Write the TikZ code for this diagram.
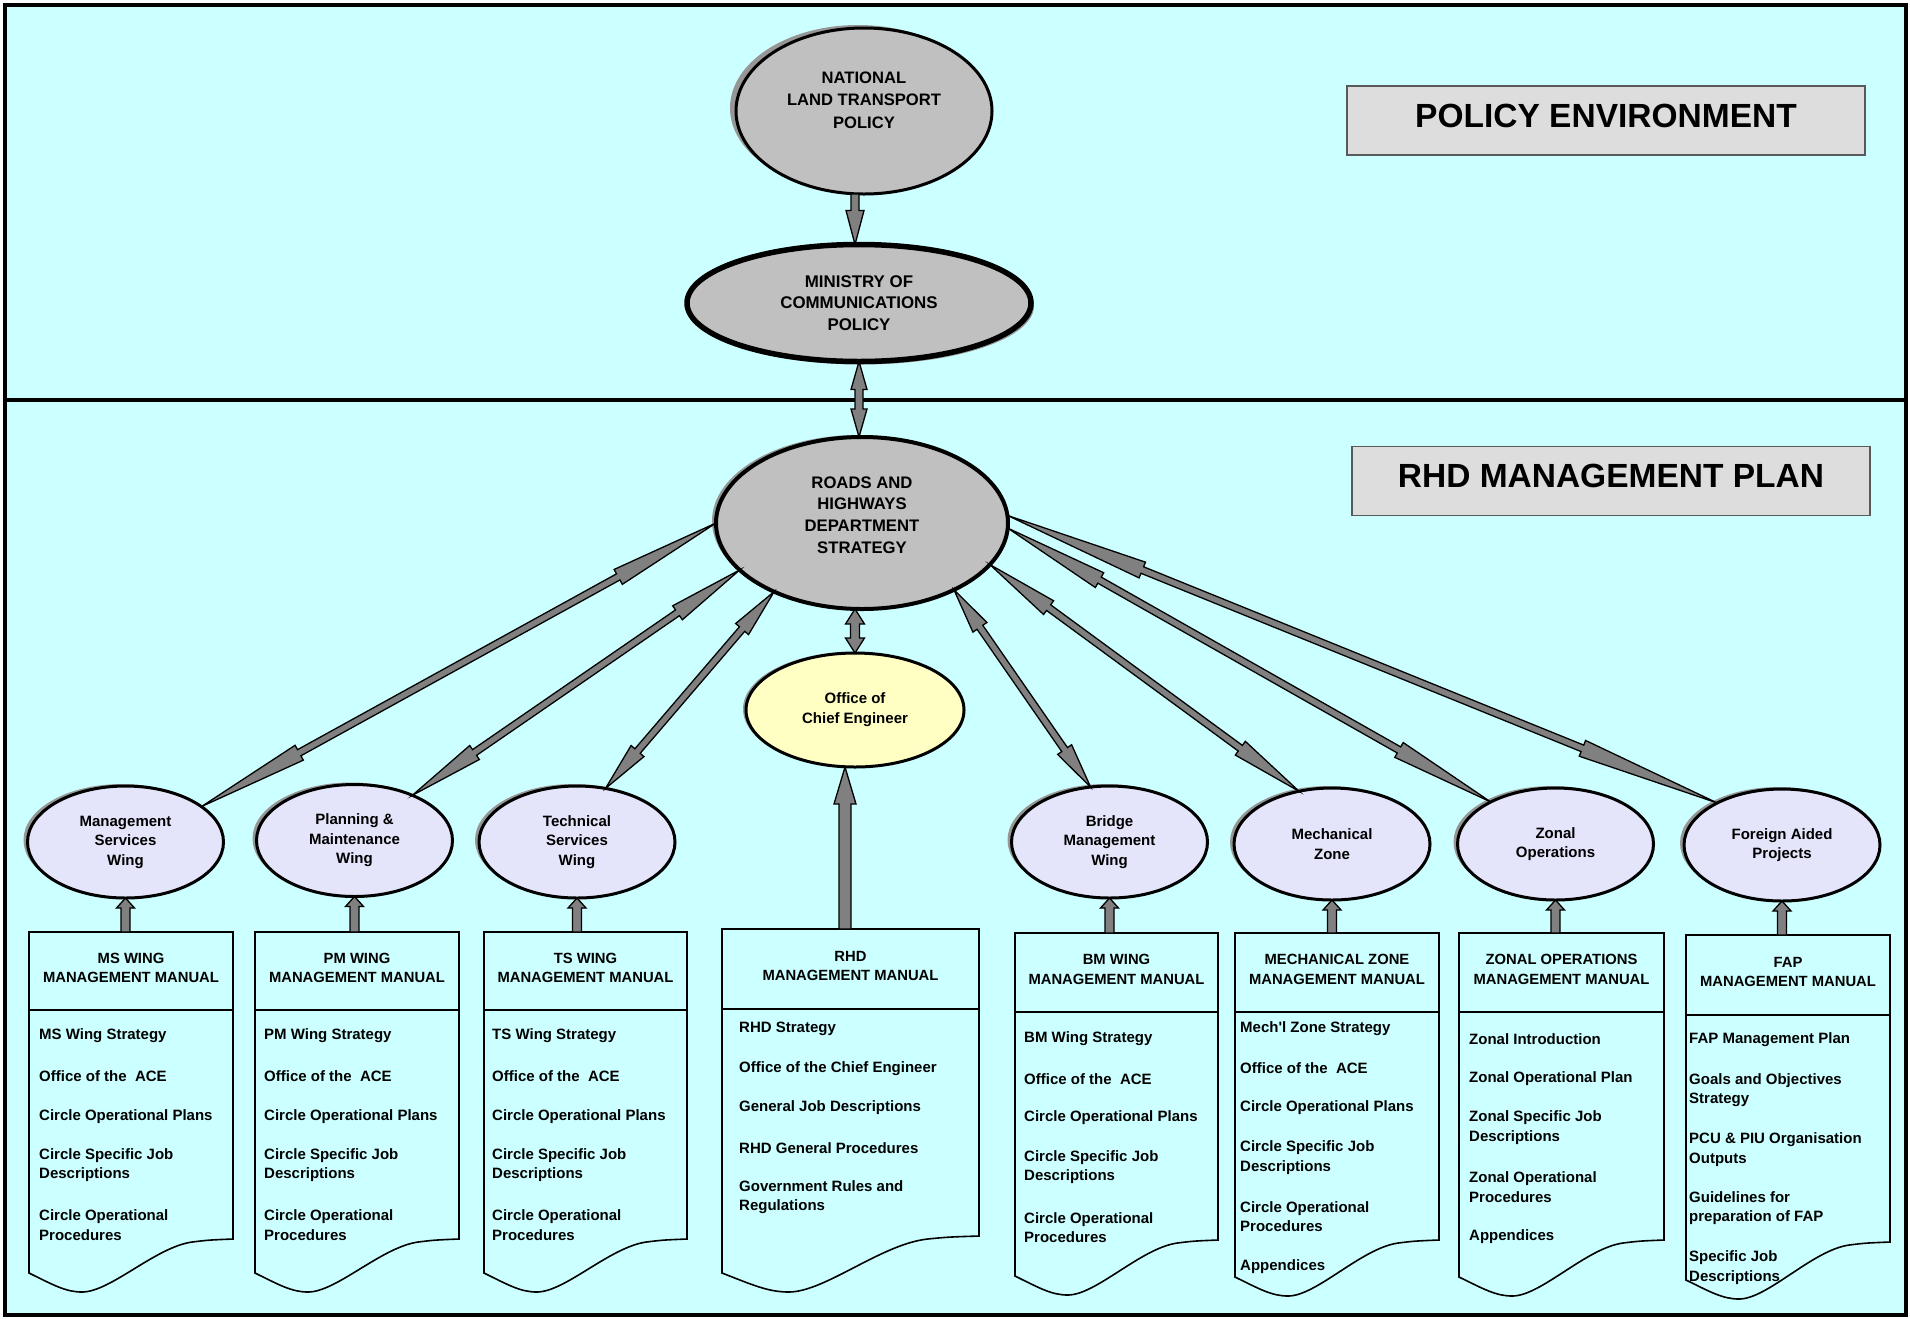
\documentclass[tikz,border=0pt]{standalone}
\usepackage{fontspec}
\setmainfont{Liberation Sans}
\usetikzlibrary{shapes.geometric,calc,shadows}
\definecolor{bgcyan}{RGB}{204,255,255}
\definecolor{ellgray}{RGB}{192,192,192}
\definecolor{arrgray}{RGB}{128,128,128}
\definecolor{boxgray}{RGB}{221,221,221}
\definecolor{shadowc}{RGB}{150,150,150}
\definecolor{wingfill}{RGB}{228,228,250}
\definecolor{cefill}{RGB}{255,255,196}

% single block arrow: tail, tip, shaft half width, head half width, head length
\newcommand\blockarrow[5]{%
  \coordinate (ba-a) at (#1);
  \coordinate (ba-b) at (#2);
  \coordinate (ba-s) at ($(ba-b)!#5!(ba-a)$);
  \filldraw[arrowstyle] (ba-b)
    -- ($(ba-s)!#4!90:(ba-a)$)
    -- ($(ba-s)!#3!90:(ba-a)$)
    -- ($(ba-a)!#3!-90:(ba-b)$)
    -- ($(ba-a)!#3!90:(ba-b)$)
    -- ($(ba-s)!#3!-90:(ba-a)$)
    -- ($(ba-s)!#4!-90:(ba-a)$)
    -- cycle;
}
% double block arrow: end A, end B, shaft half, head half, head length
\newcommand\dblarrow[5]{%
  \coordinate (da-a) at (#1);
  \coordinate (da-b) at (#2);
  \coordinate (da-sa) at ($(da-a)!#5!(da-b)$);
  \coordinate (da-sb) at ($(da-b)!#5!(da-a)$);
  \filldraw[arrowstyle] (da-a)
    -- ($(da-sa)!#4!90:(da-b)$)
    -- ($(da-sa)!#3!90:(da-b)$)
    -- ($(da-sb)!#3!-90:(da-a)$)
    -- ($(da-sb)!#4!-90:(da-a)$)
    -- (da-b)
    -- ($(da-sb)!#4!90:(da-a)$)
    -- ($(da-sb)!#3!90:(da-a)$)
    -- ($(da-sa)!#3!-90:(da-b)$)
    -- ($(da-sa)!#4!-90:(da-b)$)
    -- cycle;
}
% manual document: name, L, R, T, H, Rb, Lb, header
\newcommand\manual[8]{%
  \pgfmathsetmacro\mW{#3-#2}
  \draw[docline] (#2,#4) -- (#3,#4) -- (#3,#6)
    .. controls ({#2+0.88*\mW},{#6+1}) .. ({#2+0.80*\mW},{#6+3})
    .. controls ({#2+0.62*\mW},{#6+8}) and ({#2+0.40*\mW},{#7+19}) .. ({#2+0.26*\mW},{#7+19})
    .. controls ({#2+0.18*\mW},{#7+19}) and ({#2+0.12*\mW},{#7+12}) .. (#2,#7) -- cycle;
  \draw[line width=1.6pt] (#2,#5) -- (#3,#5);
  \coordinate (#1-top) at ({(#2+#3)/2},#4);
  \node[headtext] (#1-head) at ({(#2+#3)/2},{(#4+#5)/2-3}) {#8};
}
\newcommand\items[3]{%
  \foreach \yy/\itm [count=\k] in {#3} {\node[itemtext] (#1-i\k) at (#2,\yy+2) {\itm};}
}

\begin{document}
\begin{tikzpicture}[x=1pt,y=-1pt,
  arrowstyle/.style={fill=arrgray,draw=black,line width=1.3pt,line join=miter},
  docline/.style={draw=black,line width=1.6pt,fill=bgcyan},
  headtext/.style={font=\bfseries\fontsize{14.8}{19.5}\selectfont,align=center,inner sep=0pt},
  itemtext/.style={font=\bfseries\fontsize{15}{19.5}\selectfont,align=left,inner sep=0pt,anchor=west},
  ell/.style={ellipse,draw=black,inner sep=0pt,outer sep=0pt,align=center},
  wing/.style={ell,fill=wingfill,line width=3pt,minimum width=196,minimum height=112,
     general shadow={shadow xshift=-4pt,shadow yshift=2pt,fill=shadowc},
     font=\bfseries\fontsize{15}{19.5}\selectfont},
  biglabel/.style={draw=black!65,line width=1.5pt,fill=boxgray,minimum width=518,minimum height=69,
     inner sep=0pt,text depth=10pt,font=\bfseries\fontsize{33.5}{40}\selectfont}
]
\useasboundingbox (0,0) rectangle (1910,1318);
\fill[white] (0,0) rectangle (1910,1318);
\fill[bgcyan] (5,5) rectangle (1906,1315);
\draw[line width=4pt] (5,5) rectangle (1906,1315);
\draw[line width=4pt] (5,400) -- (1906,400);

% labels
\node[biglabel] (polenv) at (1606,120.5) {POLICY ENVIRONMENT};
\node[biglabel] (rhdplan) at (1611,481) {RHD MANAGEMENT PLAN};

% top ellipses
\node[ell,fill=ellgray,line width=3pt,minimum width=256,minimum height=166,
  general shadow={shadow xshift=-6pt,shadow yshift=3pt,fill=shadowc}] (nltp) at (864,111) {};
\node[align=center,inner sep=0pt,font=\bfseries\fontsize{16.6}{22.3}\selectfont] (nltp-t) at (864,100) {NATIONAL\\LAND TRANSPORT\\POLICY};

\node[ell,fill=ellgray,line width=5.5pt,minimum width=344,minimum height=117,
  general shadow={shadow xshift=3pt,shadow yshift=-3pt,fill=shadowc},
  font=\bfseries\fontsize{16.9}{21.5}\selectfont] (min) at (859,303) {MINISTRY OF\\COMMUNICATIONS\\POLICY};

\node[ell,fill=ellgray,line width=4pt,minimum width=292,minimum height=172,
  general shadow={shadow xshift=-4pt,shadow yshift=2pt,fill=shadowc}] (rhd) at (862,523) {};
\node[align=center,inner sep=0pt,font=\bfseries\fontsize{16.7}{21.7}\selectfont] (rhd-t) at (862,515) {ROADS AND\\HIGHWAYS\\DEPARTMENT\\STRATEGY};

\node[ell,fill=cefill,line width=3pt,minimum width=218,minimum height=114,
  general shadow={shadow xshift=-3pt,shadow yshift=1pt,fill=shadowc},
  font=\bfseries\fontsize{15}{20}\selectfont] (ce) at (855,710) {Office of\\Chief Engineer};

% wings
\node[wing] (msw) at (125.5,842) {Management\\Services\\Wing};
\node[wing] (pmw) at (354.5,840.5) {Planning \&\\Maintenance\\Wing};
\node[wing] (tsw) at (577,842) {Technical\\Services\\Wing};
\node[wing] (bmw) at (1109.5,842) {Bridge\\Management\\Wing};
\node[wing] (mzw) at (1332,844) {Mechanical\\Zone};
\node[wing] (zow) at (1555.5,844) {Zonal\\Operations};
\node[wing] (faw) at (1782,845) {Foreign Aided\\Projects};

% manuals
\manual{ms}{29}{233}{932}{1010}{1239}{1273}{MS WING\\MANAGEMENT MANUAL}
\items{ms}{39}{1034/MS Wing Strategy, 1074/Office of the\ \ ACE, 1114.5/Circle Operational Plans, 1163/{Circle Specific Job\\Descriptions}, 1223/{Circle Operational\\Procedures}}

\manual{pm}{255}{459}{932}{1010}{1239}{1273}{PM WING\\MANAGEMENT MANUAL}
\items{pm}{264}{1034/PM Wing Strategy, 1074/Office of the\ \ ACE, 1114.5/Circle Operational Plans, 1163/{Circle Specific Job\\Descriptions}, 1223/{Circle Operational\\Procedures}}

\manual{ts}{484}{687}{932}{1010}{1239}{1273}{TS WING\\MANAGEMENT MANUAL}
\items{ts}{492}{1034/TS Wing Strategy, 1074/Office of the\ \ ACE, 1114.5/Circle Operational Plans, 1163/{Circle Specific Job\\Descriptions}, 1223/{Circle Operational\\Procedures}}

\manual{rhdm}{722}{979}{929}{1009}{1236}{1273}{RHD\\MANAGEMENT MANUAL}
\items{rhdm}{739}{1027/RHD Strategy, 1067/Office of the Chief Engineer, 1106/General Job Descriptions, 1146/RHD General Procedures, 1195/{Government Rules and\\Regulations}}

\manual{bm}{1015}{1218}{933}{1012}{1240}{1276}{BM WING\\MANAGEMENT MANUAL}
\items{bm}{1024}{1037/BM Wing Strategy, 1077/Office of the\ \ ACE, 1116/Circle Operational Plans, 1165/{Circle Specific Job\\Descriptions}, 1225.5/{Circle Operational\\Procedures}}

\manual{mz}{1235}{1439}{933}{1012}{1240}{1277}{MECHANICAL ZONE\\MANAGEMENT MANUAL}
\items{mz}{1240}{1027/Mech\textquotesingle l Zone Strategy, 1066/Office of the\ \ ACE, 1106/Circle Operational Plans, 1155.5/{Circle Specific Job\\Descriptions}, 1214.5/{Circle Operational\\Procedures}, 1264.5/Appendices}

\manual{zo}{1459}{1664}{933}{1012}{1240}{1277}{ZONAL OPERATIONS\\MANAGEMENT MANUAL}
\items{zo}{1469}{1037/Zonal Introduction, 1077/Zonal Operational Plan, 1125.5/{Zonal Specific Job\\Descriptions}, 1185/{Zonal Operational\\Procedures}, 1235/Appendices}

\manual{fa}{1686}{1890}{935}{1015}{1242}{1280}{FAP\\MANAGEMENT MANUAL}
\items{fa}{1689}{1038/FAP Management Plan, 1088/{Goals and Objectives\\Strategy}, 1147.5/{PCU \& PIU Organisation\\Outputs}, 1206/{Guidelines for\\preparation of FAP}, 1265.5/{Specific Job\\Descriptions}}

% vertical arrows
\coordinate (nltp-arr) at ($(nltp.south)+(-9,0)$);
\blockarrow{nltp-arr}{nltp-arr |- min.north}{4pt}{9pt}{34pt}
\dblarrow{min.south}{min.south |- rhd.north}{4pt}{8pt}{28pt}
\dblarrow{rhd.south -| ce.north}{ce.north}{4.5pt}{9.5pt}{15pt}
\coordinate (rhdm-arr) at (845,929);
\blockarrow{rhdm-arr}{rhdm-arr |- ce.south}{6pt}{11pt}{37pt}

\foreach \w/\m in {msw/ms,pmw/pm,tsw/ts,bmw/bm,mzw/mz,zow/zo,faw/fa}{
  \blockarrow{\w.south |- \m-top}{\w.south}{4.5pt}{9pt}{10pt}
}

% diagonal double arrows
\dblarrow{rhd.180}{msw.25}{3.5pt}{8.5pt}{0.19}
\dblarrow{rhd.201}{pmw.38}{3.5pt}{8.5pt}{0.19}
\dblarrow{rhd.218}{tsw.62}{3.5pt}{8.5pt}{0.19}
\dblarrow{rhd.324}{bmw.109}{3.5pt}{8.5pt}{0.19}
\dblarrow{rhd.342}{mzw.122}{3.5pt}{8.5pt}{0.19}
\dblarrow{rhd.358}{zow.147}{3.5pt}{8.5pt}{0.19}
\dblarrow{rhd.3}{faw.147}{3.5pt}{8.5pt}{0.19}
\end{tikzpicture}
\end{document}
